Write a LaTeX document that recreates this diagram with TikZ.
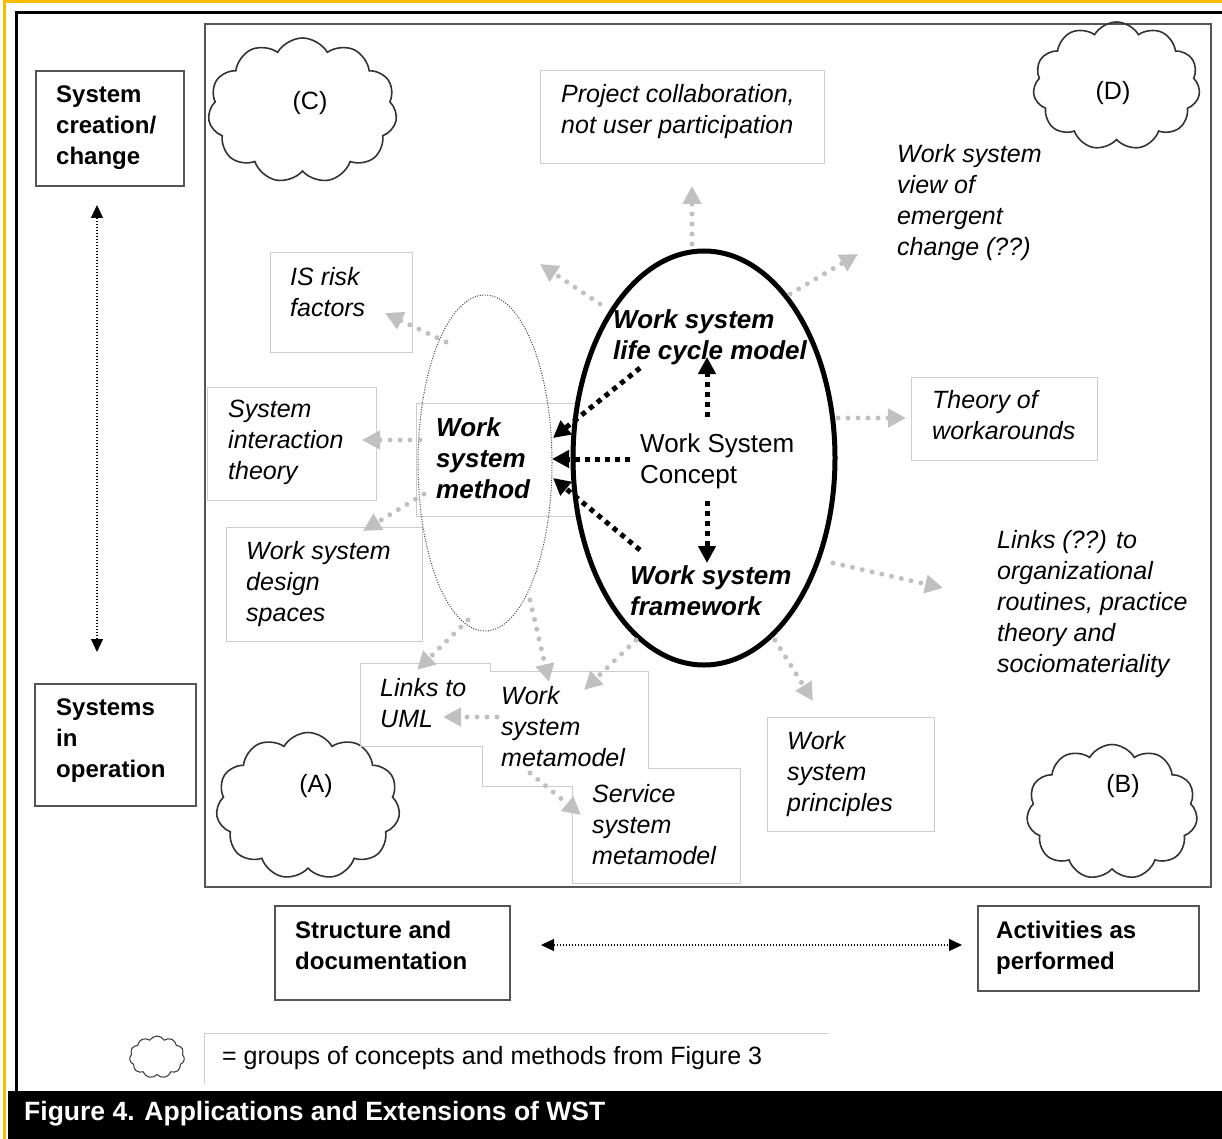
\documentclass[tikz,border=0pt]{standalone}
\usepackage{fontspec}
\setmainfont{Liberation Sans}
\usetikzlibrary{arrows.meta,shapes.geometric,shapes.symbols}
\definecolor{goldc}{RGB}{245,188,0}
\definecolor{framec}{RGB}{85,85,85}
\definecolor{lboxc}{RGB}{205,205,205}
\definecolor{gdot}{RGB}{192,192,192}
\begin{document}
\begin{tikzpicture}[x=1pt,y=-1pt,
  itx/.style={font=\fontsize{25}{31}\selectfont\itshape, align=left, anchor=north west, inner sep=0pt},
  bix/.style={font=\fontsize{26}{31}\selectfont\bfseries\itshape, align=left, anchor=north west, inner sep=0pt},
  hbx/.style={font=\fontsize{24}{31}\selectfont\bfseries, align=left, anchor=north west, inner sep=0pt},
  rgx/.style={font=\fontsize{25}{31}\selectfont, align=left, inner sep=0pt},
  lboxs/.style={draw=lboxc, line width=1pt, anchor=north west, inner sep=0pt},
  kbox/.style={draw=framec, line width=2pt, anchor=north west, inner sep=0pt},
  cloudst/.style={cloud, cloud puffs=11, cloud puff arc=120, cloud ignores aspect, draw=black!80, line width=1.6pt, inner sep=0pt},
  garr/.style={draw=gdot, line width=5pt, line cap=round, dash pattern=on 0pt off 10pt, -{Triangle[length=18pt,width=18pt,fill=gdot]}},
  barr/.style={draw=black, line width=5pt, dash pattern=on 5pt off 5pt, -{Triangle[length=17pt,width=17pt]}},
  tarr/.style={draw=black, line width=1.2pt, dash pattern=on 1.2pt off 1.8pt, {Triangle[length=13pt,width=12pt]}-{Triangle[length=13pt,width=12pt]}}
]
\useasboundingbox (0,0) rectangle (1222,1139);
% outer frames
\draw[goldc, line width=3pt] (4,1139) -- (4,1.5) -- (1222,1.5);
\draw[black, line width=3pt] (16,1092) -- (16,12.5) -- (1222,12.5);
\fill[black] (8,1091) rectangle (1222,1139);
\node[font=\fontsize{26.5}{31}\selectfont\bfseries, text=white, anchor=west, inner sep=0pt] (caption) at (24,1114) {Figure 4. Applications and Extensions of WST};

% main frame
\node[kbox, minimum width=1006pt, minimum height=863pt] (mainframe) at (204,23) {};

% side boxes
\node[kbox, minimum width=148pt, minimum height=115pt] (crebox) at (35,70) {};
\node[hbx] (cretext) at (56,86) {System\\creation/\\change};
\node[kbox, minimum width=161pt, minimum height=122pt] (opbox) at (34,683) {};
\node[hbx] (optext) at (56,699) {Systems\\in\\operation};
\node[kbox, minimum width=235pt, minimum height=94pt] (strbox) at (274,905) {};
\node[hbx] (strtext) at (295,921) {Structure and\\documentation};
\node[kbox, minimum width=221pt, minimum height=85pt] (actbox) at (977,905) {};
\node[hbx] (acttext) at (996,921) {Activities as\\performed};

\coordinate (v1) at (97,205);
\coordinate (v2) at (97,652);
\draw[tarr] (v1) -- (v2);
\coordinate (h1) at (541,945);
\coordinate (h2) at (962,945);
\draw[tarr] (h1) -- (h2);

% clouds
\node[cloudst, minimum width=189pt, minimum height=145pt] (cloudC) at (302.5,110.5) {};
\node[rgx] (labC) at (310,103) {(C)};
\node[cloudst, minimum width=167pt, minimum height=128pt] (cloudD) at (1116.5,86) {};
\node[rgx] (labD) at (1113,93) {(D)};
\node[cloudst, minimum width=184pt, minimum height=147pt] (cloudA) at (308,806) {};
\node[rgx] (labA) at (316,786) {(A)};
\node[cloudst, minimum width=171pt, minimum height=135pt] (cloudB) at (1112,812) {};
\node[rgx] (labB) at (1123,786) {(B)};

% legend
\node[cloudst, line width=1pt, minimum width=55pt, minimum height=42pt] (cloudL) at (157,1057) {};
\draw[lboxc, line width=1pt] (204,1084) -- (204,1033) -- (828,1033);
\node[rgx, anchor=west] (legend) at (222,1058) {= groups of concepts and methods from Figure 3};

% light boxes
\node[lboxs, minimum width=284pt, minimum height=93pt] (projbox) at (540,70) {};
\node[lboxs, minimum width=142pt, minimum height=100pt] (isbox) at (270,252) {};
\node[lboxs, minimum width=169pt, minimum height=113pt] (sibox) at (207,387) {};
\node[lboxs, minimum width=196pt, minimum height=114pt] (dsbox) at (226,527) {};
\node[lboxs, minimum width=186pt, minimum height=83pt] (wabox) at (911,377) {};
\node[lboxs, minimum width=167pt, minimum height=114pt] (prbox) at (767,717) {};
\node[lboxs, minimum width=159pt, minimum height=113pt] (wsmbox) at (416,403) {};
\draw[lboxc, line width=1pt] (360,663) -- (490,663) -- (490,671) -- (648,671) -- (648,768) -- (740,768) -- (740,883) -- (572,883) -- (572,786) -- (482,786) -- (482,746) -- (360,746) -- cycle;

% ellipses
\node[ellipse, draw=black!75, line width=1pt, dash pattern=on 1pt off 1.5pt, minimum width=134pt, minimum height=336pt, inner sep=0pt] (wsmell) at (485,463) {};
\node[ellipse, draw=black, line width=5pt, minimum width=262pt, minimum height=414pt, inner sep=0pt] (wsc) at (704,458) {};

% gray arrows
\coordinate (g1s) at (692,244); \coordinate (g1e) at (692,186);
\coordinate (g2s) at (600,304); \coordinate (g2e) at (540,264);
\coordinate (g3s) at (790,294); \coordinate (g3e) at (858,254);
\coordinate (g4s) at (446,342); \coordinate (g4e) at (385,313);
\coordinate (g5s) at (420,440); \coordinate (g5e) at (362,440);
\coordinate (g6s) at (424,494); \coordinate (g6e) at (363,531);
\coordinate (g7s) at (838,418); \coordinate (g7e) at (906,418);
\coordinate (g8s) at (833,563); \coordinate (g8e) at (943,588);
\coordinate (g9s) at (775,640); \coordinate (g9e) at (813,701);
\coordinate (g10s) at (636,640); \coordinate (g10e) at (584,690);
\coordinate (g11s) at (530,600); \coordinate (g11e) at (549,682);
\coordinate (g12s) at (468,620); \coordinate (g12e) at (417,670);
\coordinate (g13s) at (497,717); \coordinate (g13e) at (443,717);
\coordinate (g14s) at (530,773); \coordinate (g14e) at (581,815);
\foreach \i in {1,...,14} {\draw[garr] (g\i s) -- (g\i e);}

% black arrows
\coordinate (b1s) at (707,417); \coordinate (b1e) at (707,357);
\coordinate (b2s) at (707,501); \coordinate (b2e) at (707,563);
\coordinate (b3s) at (630,459); \coordinate (b3e) at (552,459);
\coordinate (b4s) at (640,368); \coordinate (b4e) at (553,438);
\coordinate (b5s) at (640,550); \coordinate (b5e) at (553,478);
\foreach \i in {1,...,5} {\draw[barr] (b\i s) -- (b\i e);}

% texts
\node[itx] (projtext) at (561,84) {Project collaboration,\\not user participation};
\node[itx] (viewtext) at (897,144) {Work system\\view of\\emergent\\change (??)};
\node[itx] (istext) at (290,267) {IS risk\\factors};
\node[itx] (sitext) at (228,400) {System\\interaction\\theory};
\node[itx] (dstext) at (246,541) {Work system\\design\\spaces};
\node[itx] (watext) at (932,390) {Theory of\\workarounds};
\node[itx] (orgtext) at (997,530) {Links (??) to\\organizational\\routines, practice\\theory and\\sociomateriality};
\node[itx] (prtext) at (787,731) {Work\\system\\principles};
\node[itx] (umltext) at (380,678) {Links to\\UML};
\node[itx] (metatext) at (501,686) {Work\\system\\metamodel};
\node[itx] (svctext) at (592,784) {Service\\system\\metamodel};

\node[bix] (lctext) at (613,309) {Work system\\life cycle model};
\node[bix] (wsmtext) at (436,417) {Work\\system\\method};
\node[bix] (fwtext) at (630,565) {Work system\\framework};
\node[rgx, font=\fontsize{26}{31}\selectfont, anchor=north west] (concept) at (640,433) {Work System\\Concept};
\end{tikzpicture}
\end{document}
